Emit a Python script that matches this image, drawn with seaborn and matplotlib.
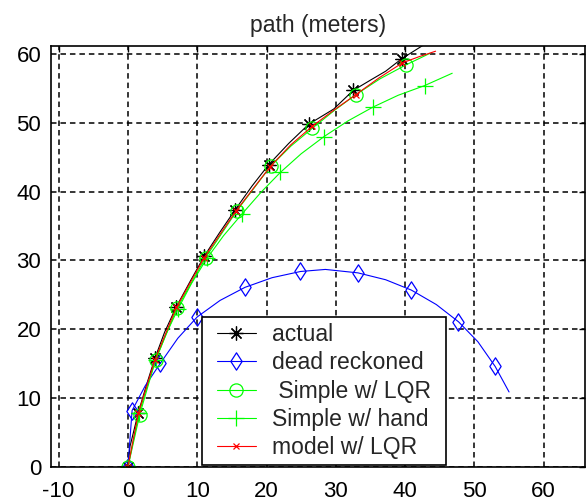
import matplotlib
matplotlib.use("Agg")
import matplotlib.pyplot as plt
from matplotlib.path import Path
from matplotlib.patches import Rectangle
import seaborn as sns
import pandas as pd

# Vehicle path estimates (x, y in meters)
actual_x = [0, 0.3, 1.5, 2.7, 3.9, 5.3, 7.0, 9.0, 11.0, 13.2, 15.5, 17.9, 20.3,
            23.2, 26.1, 29.7, 32.5, 35.0, 37.2, 39.5, 42.5, 44.0]
actual_y = [0, 3.0, 7.9, 12.0, 15.8, 19.6, 23.3, 27.0, 30.6, 34.0, 37.4, 40.8, 43.9,
            47.0, 49.8, 52.0, 54.7, 56.2, 57.5, 59.3, 61.2, 62.2]

dead_x = [0, 0.6, 2.5, 4.7, 7.2, 10.0, 13.3, 16.9, 20.8, 24.9, 28.5, 33.2, 37.2,
          40.9, 44.5, 47.7, 50.5, 53.0, 55.0]
dead_y = [0, 8.2, 11.8, 15.1, 18.7, 21.8, 24.2, 26.1, 27.5, 28.4, 28.7, 28.2, 27.2,
          25.7, 23.6, 21.1, 18.2, 14.6, 10.9]

lqr_x = [0, 1.7, 4.0, 7.1, 11.2, 15.7, 20.6, 23.5, 26.6, 29.8, 32.9, 36.4, 40.1, 43.6]
lqr_y = [0, 7.6, 15.6, 23.1, 30.4, 37.2, 43.7, 46.6, 49.2, 51.8, 54.1, 56.4, 58.4, 60.1]

hand_x = [0, 1.6, 2.8, 4.0, 5.5, 7.2, 9.2, 11.4, 13.8, 16.5, 19.2, 22.0, 25.0,
          28.3, 31.8, 35.4, 39.0, 42.8, 46.8]
hand_y = [0, 7.8, 11.8, 15.5, 19.3, 22.9, 26.7, 30.3, 33.6, 36.8, 39.9, 42.8, 45.5,
          48.0, 50.3, 52.3, 54.0, 55.4, 57.2]

model_x = [0, 1.5, 3.9, 7.0, 11.0, 15.6, 20.5, 23.5, 26.6, 29.8, 32.9, 36.2, 39.6, 42.0, 44.4]
model_y = [0, 7.8, 15.6, 23.2, 30.4, 37.2, 43.6, 46.8, 49.5, 51.9, 54.1, 56.5, 58.7, 59.6, 60.4]

labels = ["actual", "dead reckoned", " Simple w/ LQR", "Simple w/ hand", "model w/ LQR"]
x_ticks = [-10, 0, 10, 20, 30, 40, 50, 60]
y_ticks = [0, 10, 20, 30, 40, 50, 60]

sns.set_theme(style="white")
plt.rcParams["font.family"] = ["Liberation Sans", "DejaVu Sans"]
plt.rcParams["axes.unicode_minus"] = False

# diamond outline, taller than wide
narrow_diamond = Path([(0, 1), (0.65, 0), (0, -1), (-0.65, 0), (0, 1)],
                      [Path.MOVETO, Path.LINETO, Path.LINETO, Path.LINETO, Path.CLOSEPOLY])
asterisk = (8, 2, 0)

fig = plt.figure(figsize=(5.86, 5.04), dpi=100)
ax = fig.add_axes([51 / 586, 37 / 504, 534 / 586, 421.3 / 504])

series = [
    (actual_x, actual_y, labels[0], dict(color="black", marker=asterisk, ms=10,
                                         markevery=[0, 2, 4, 6, 8, 10, 12, 14, 16, 19])),
    (dead_x, dead_y, labels[1], dict(color="#0000ff", marker=narrow_diamond, ms=12.5, mfc="none",
                                     markevery=[0, 1, 3, 5, 7, 9, 11, 13, 15, 17])),
    (lqr_x, lqr_y, labels[2], dict(color="#00ff00", marker="o", ms=9.5, mfc="none",
                                   markevery=[0, 1, 2, 3, 4, 5, 6, 8, 10, 12])),
    (hand_x, hand_y, labels[3], dict(color="#00ff00", marker="+", ms=12,
                                     markevery=[0, 1, 3, 5, 7, 9, 11, 13, 15, 17])),
    (model_x, model_y, labels[4], dict(color="#ff0000", marker="x", ms=5,
                                       markevery=[0, 1, 2, 3, 4, 5, 6, 8, 10, 12])),
]

for xs, ys, lab, kw in series:
    df = pd.DataFrame({"x": xs, "y": ys})
    sns.lineplot(data=df, x="x", y="y", ax=ax, sort=False, estimator=None,
                 label=lab, lw=0.8, mec=kw["color"], mew=0.9, **kw)

ax.set_xlim(-11.1, 65.96)
ax.set_ylim(0, 61.2)
ax.set_xticks(x_ticks)
ax.set_yticks(y_ticks)
ax.set_xlabel("")
ax.set_ylabel("")
ax.grid(True, color="black", linestyle=(0, (3.6, 2.6)), linewidth=1.1)
ax.tick_params(direction="in", length=4, width=1, top=True, right=True,
               labelsize=16, colors="black")
ax.tick_params(axis="x", pad=10)
ax.tick_params(axis="y", pad=7)
for sp in ax.spines.values():
    sp.set_visible(True)
    sp.set_color("black")
    sp.set_linewidth(1.2)

ax.set_title("path (meters)", fontsize=16.5, pad=10)

leg = ax.legend(loc="lower left", bbox_to_anchor=(0.300, 0.005),
                borderaxespad=0, fontsize=16.5, frameon=False,
                handlelength=1.7, handletextpad=0.7, labelspacing=0.23, borderpad=0.25)

# boxed legend frame, wider padding left/right than top/bottom
fig.canvas.draw()
bb = leg.get_window_extent().transformed(fig.transFigure.inverted())
pad_x = 9 / 586
frame = Rectangle((bb.x0 - pad_x, bb.y0), bb.width + 2 * pad_x, bb.height,
                  transform=fig.transFigure, facecolor="white", edgecolor="black",
                  linewidth=1.2, zorder=4.9, clip_on=False)
ax.add_patch(frame)

fig.savefig("out.png", dpi=100)
